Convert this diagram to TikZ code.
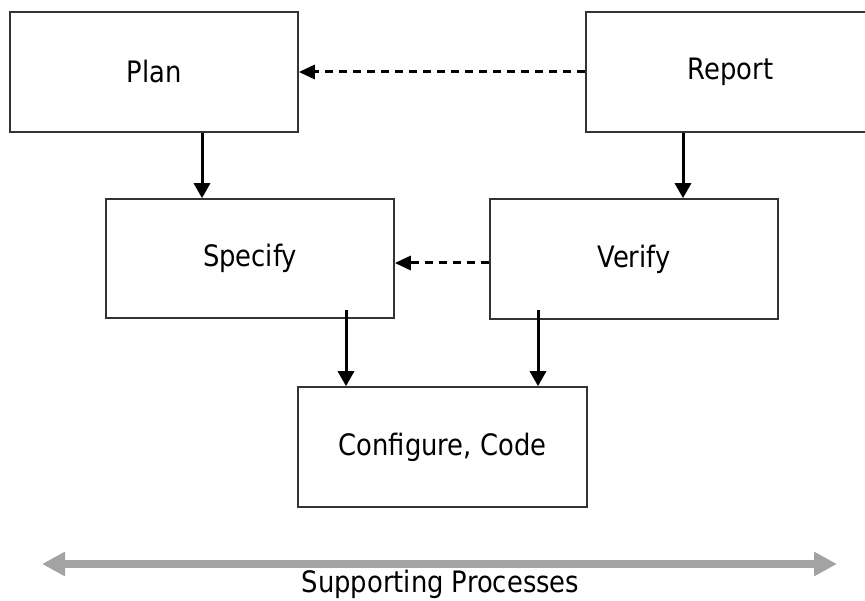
\documentclass[tikz,border=0pt]{standalone}
\usepackage{fontspec}
\setmainfont{DejaVu Sans}[FakeStretch=0.875]
\usetikzlibrary{arrows.meta}
\definecolor{boxline}{HTML}{333333}
\definecolor{supportgray}{HTML}{A3A3A3}
\tikzset{
  stagebox/.style={draw=boxline, line width=1.6pt, fill=white, rectangle,
    inner sep=0pt, font=\fontsize{29.5}{34}\selectfont},
  flow/.style={line width=3pt, -{Triangle[length=15pt,width=16pt]}},
  feedback/.style={line width=3pt, dash pattern=on 8pt off 6pt,
    -{Triangle[length=16pt,width=14pt]}},
  support/.style={draw=supportgray, line width=8pt,
    {Triangle[length=23pt,width=23pt]}-{Triangle[length=23pt,width=23pt]}},
}
\begin{document}
\begin{tikzpicture}[x=1pt, y=-1pt]
  \path[use as bounding box, clip] (0,0) rectangle (865,601);

  % process stages
  \node[stagebox, minimum width=288pt, minimum height=120pt] (plan) at (154,72) {Plan};
  \node[stagebox, minimum width=289pt, minimum height=120pt] (report) at (730.5,72) {Report};
  \node[stagebox, minimum width=288pt, minimum height=119pt] (spec) at (250,258.5) {Specify};
  \node[stagebox, minimum width=288pt, minimum height=120pt] (verify) at (634,259) {Verify};
  \node[stagebox, minimum width=289pt, minimum height=120pt] (cfg) at (442.5,447) {Configure, Code};

  % feedback paths
  \draw[feedback] (report.west) -- (plan.east |- report.west);
  \draw[feedback] ([yshift=-4pt]verify.west) -- ([yshift=-4pt]verify.west -| spec.east);

  % forward flow
  \draw[flow] ([xshift=48pt]plan.south) -- ([xshift=48pt]plan.south |- spec.north);
  \draw[flow] ([xshift=-47.5pt]report.south) -- ([xshift=-47.5pt]report.south |- verify.north);
  \draw[flow] ([shift={(96,-9)}]spec.south) -- ([xshift=96pt]spec.south |- cfg.north);
  \draw[flow] ([shift={(-96,-10)}]verify.south) -- ([xshift=-96pt]verify.south |- cfg.north);

  % supporting processes span
  \coordinate (supL) at (42,564);
  \coordinate (supR) at (837,564);
  \draw[support] (supL) -- (supR);
  \node[font=\fontsize{29.5}{34}\selectfont, anchor=base] (suptext) at (440.5,592) {Supporting Processes};
\end{tikzpicture}
\end{document}
